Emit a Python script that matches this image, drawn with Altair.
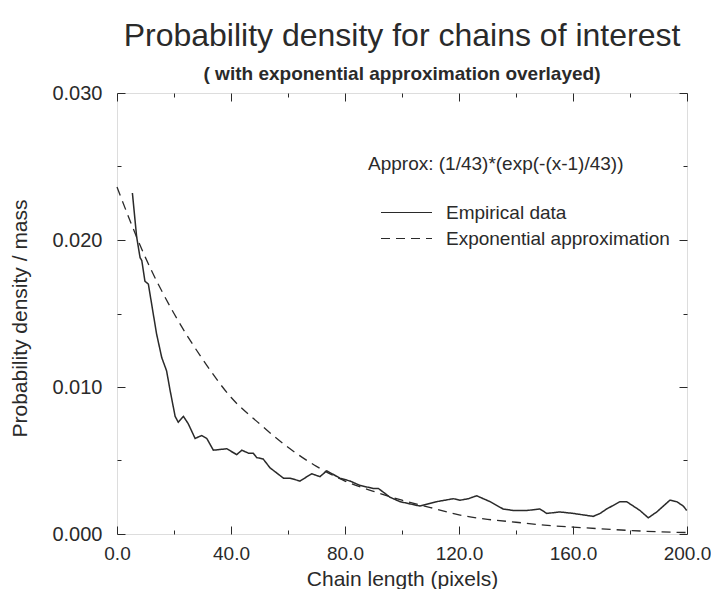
import altair as alt
import pandas as pd

# Empirical data
emp_x = [5.4, 6.9, 8.1, 8.7, 9.8, 11.0, 11.6, 12.7, 13.9, 15.7, 17.4, 18.6, 20.4, 21.5,
         23.3, 25.0, 27.4, 29.7, 31.5, 33.8, 38.5, 42.0, 43.8, 46.1, 47.8, 49.0, 51.3,
         53.7, 58.4, 60.7, 64.2, 68.3, 71.2, 73.6, 78.2, 81.8, 85.3, 89.9, 91.7, 95.8,
         99.3, 106.3, 112.2, 118.0, 120.4, 123.3, 126.2, 130.9, 135.5, 139.1, 143.8,
         148.4, 150.8, 155.4, 160.1, 167.1, 169.5, 171.8, 176.5, 178.8, 183.5, 186.4,
         189.4, 194.0, 196.4, 198.7, 199.9]
emp_y = [0.0232, 0.0202, 0.0188, 0.0186, 0.0172, 0.0170, 0.0163, 0.0150, 0.0136, 0.0120,
         0.0111, 0.0098, 0.0080, 0.0076, 0.0080, 0.0075, 0.0065, 0.0067, 0.0065, 0.0057,
         0.0058, 0.0054, 0.0057, 0.0055, 0.0055, 0.0052, 0.0051, 0.0045, 0.0038, 0.0038,
         0.0036, 0.0041, 0.0039, 0.0043, 0.0038, 0.0036, 0.0033, 0.0031, 0.0031, 0.0025,
         0.0022, 0.0019, 0.0022, 0.0024, 0.0023, 0.0024, 0.0026, 0.0022, 0.0017, 0.0016,
         0.0016, 0.0017, 0.0014, 0.0015, 0.0014, 0.0012, 0.0014, 0.0017, 0.0022, 0.0022,
         0.0016, 0.0011, 0.0015, 0.0023, 0.0022, 0.0019, 0.0016]

# Exponential approximation
exp_x = [0, 10, 20, 30, 40, 50, 60, 70, 80, 90, 100, 110, 120, 130, 140, 150, 160,
         170, 180, 190, 200]
exp_y = [0.0236, 0.0188, 0.0150, 0.0119, 0.0093, 0.0075, 0.0059, 0.0046, 0.0036, 0.0029,
         0.0023, 0.0018, 0.0013, 0.0010, 0.0008, 0.0006, 0.00047, 0.00035, 0.00024,
         0.00015, 0.0001]

series_names = ["Empirical data", "Exponential approximation"]
x_ticks = [0, 20, 40, 60, 80, 100, 120, 140, 160, 180, 200]
y_ticks = [0.0, 0.005, 0.010, 0.015, 0.020, 0.025, 0.030]

emp_df = pd.DataFrame({"x": emp_x, "y": emp_y, "series": series_names[0]})
exp_df = pd.DataFrame({"x": exp_x, "y": exp_y, "series": series_names[1]})

INK = "#2a2a2a"
FONT = "Liberation Sans"

x_scale = alt.Scale(domain=[0, 200], nice=False, zero=False)
y_scale = alt.Scale(domain=[0, 0.03], nice=False)

x_tick_size = {"condition": {"test": "datum.value % 40 === 0", "value": -8}, "value": -4}
y_tick_size = {"condition": {"test": "round(datum.value * 1000) % 10 === 0", "value": -8}, "value": -4}

dash_scale = alt.Scale(domain=series_names, range=[[1, 0], [9, 6]])

legend = alt.Legend(
    title="Approx:  (1/43)*(exp(-(x-1)/43))",
    orient="none", legendX=251, legendY=62,
    titleFont=FONT, titleFontSize=19, titleFontWeight="normal", titleColor=INK,
    titlePadding=29, titleLimit=1000,
    labelFont=FONT, labelFontSize=19, labelColor=INK, labelLimit=1000,
    symbolType="M-3,0H3", symbolSize=289, symbolStrokeColor=INK,
    symbolStrokeWidth=1.2, symbolOffset=29, labelOffset=30,
    rowPadding=6, padding=0,
)

emp_line = alt.Chart(emp_df).mark_line(color=INK, strokeWidth=1.5).encode(
    x=alt.X("x:Q", scale=x_scale,
            axis=alt.Axis(orient="bottom", values=x_ticks, title="Chain length (pixels)",
                          labelExpr="datum.value % 40 === 0 ? format(datum.value, '.1f') : ''",
                          tickSize=x_tick_size, labelPadding=18, labelFontSize=19,
                          labelFlush=False,
                          labelFont=FONT, labelColor=INK, tickColor=INK, domain=False,
                          grid=False, titleFont=FONT, titleFontSize=21,
                          titleFontWeight="normal", titleColor=INK,
                          titleX=285, titleY=51, titleBaseline="alphabetic")),
    y=alt.Y("y:Q", scale=y_scale,
            axis=alt.Axis(orient="left", values=y_ticks, title="Probability density / mass",
                          labelExpr="round(datum.value * 1000) % 10 === 0 ? format(datum.value, '.3f') : ''",
                          tickSize=y_tick_size, labelPadding=23, labelFontSize=20,
                          labelFlush=False,
                          labelFont=FONT, labelColor=INK, tickColor=INK, domain=False,
                          grid=False, titleFont=FONT, titleFontSize=21,
                          titleFontWeight="normal", titleColor=INK,
                          titleX=-97, titleY=225, titleBaseline="middle",
                          titleAngle=270)),
    strokeDash=alt.StrokeDash("series:N", scale=dash_scale, legend=legend),
    order="x:Q",
)

exp_line = alt.Chart(exp_df).mark_line(color=INK, strokeWidth=1.3, interpolate="monotone").encode(
    x=alt.X("x:Q", scale=x_scale,
            axis=alt.Axis(orient="top", values=x_ticks, labels=False, title=None,
                          tickSize=x_tick_size, tickColor=INK, domain=False, grid=False)),
    y=alt.Y("y:Q", scale=y_scale,
            axis=alt.Axis(orient="right", values=y_ticks, labels=False, title=None,
                          tickSize=y_tick_size, tickColor=INK, domain=False, grid=False)),
    strokeDash=alt.StrokeDash("series:N", scale=dash_scale, legend=legend),
    order="x:Q",
)

chart = alt.layer(emp_line, exp_line).resolve_axis(x="independent", y="independent").properties(
    width=570, height=441,
    autosize=alt.AutoSizeParams(type="none"),
    padding={"left": 109, "top": 85, "right": 24, "bottom": 55},
    title=alt.TitleParams(
        text="Probability density for chains of interest",
        subtitle="( with exponential approximation overlayed)",
        anchor="middle", font=FONT, fontSize=32, fontWeight="normal", color=INK,
        subtitleFont=FONT, subtitleFontSize=19, subtitleFontWeight="bold",
        subtitleColor=INK, subtitlePadding=12, offset=-2,
    ),
).configure_view(stroke=INK, strokeWidth=1.2).configure(background="white")

chart.save("out.html", embed_options={"renderer": "svg", "actions": False})
